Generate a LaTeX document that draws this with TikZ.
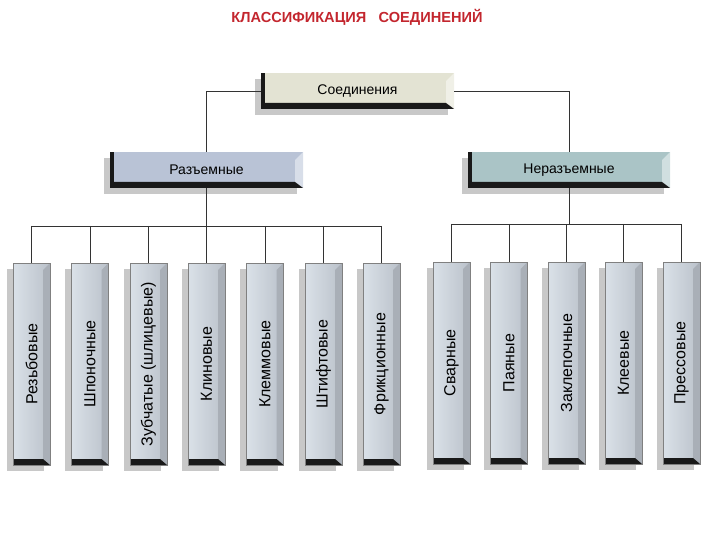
\documentclass[tikz,border=0pt]{standalone}
\usepackage{fontspec}
\setmainfont{Liberation Sans}
\usetikzlibrary{backgrounds}
\definecolor{titlered}{HTML}{C3262E}
\definecolor{rootface}{HTML}{E3E3D3}
\definecolor{razface}{HTML}{B9C3D6}
\definecolor{nerazface}{HTML}{AAC4C6}
\definecolor{leafL}{HTML}{DAE1E8}
\definecolor{leafR}{HTML}{BAC1CA}
\definecolor{leafbev}{HTML}{A9AFB7}
\definecolor{shadowgray}{HTML}{C8C8C8}
\begin{document}
\begin{tikzpicture}[
		x=1pt,y=-1pt,
		line width=0.7pt,
		font=\fontsize{14}{16}\selectfont
	]
	\tikzset{
		topbox/.style = {rectangle, minimum width=193pt, minimum height=36pt, inner sep=0pt, fill=#1,
			path picture={
				\fill[white!45!#1] ([xshift=-8pt,yshift=-8pt]path picture bounding box.north east) -- (path picture bounding box.north east) -- (path picture bounding box.south east) -- ([xshift=-8pt]path picture bounding box.south east) -- cycle;
				\fill[black!90] (path picture bounding box.south west) -- (path picture bounding box.north west) -- ([xshift=4pt]path picture bounding box.north west) -- ([xshift=4pt]path picture bounding box.south west) -- cycle;
				\fill[black!90] (path picture bounding box.south west) -- ([yshift=6pt]path picture bounding box.south west) -- ([xshift=-8pt,yshift=6pt]path picture bounding box.south east) -- (path picture bounding box.south east) -- cycle;
			}},
		leafbox/.style = {rectangle, minimum width=37pt, minimum height=202pt, inner sep=0pt,
			left color=leafL, right color=leafR, draw=gray, line width=0.4pt,
			font=\fontsize{16}{18}\selectfont,
			path picture={
				\fill[leafbev] ([xshift=-7pt,yshift=-7pt]path picture bounding box.north east) -- (path picture bounding box.north east) -- (path picture bounding box.south east) -- ([xshift=-7pt]path picture bounding box.south east) -- cycle;
				\fill[black!90] (path picture bounding box.south west) -- ([yshift=6pt]path picture bounding box.south west) -- ([xshift=-7pt,yshift=6pt]path picture bounding box.south east) -- (path picture bounding box.south east) -- cycle;
			}},
		link/.style = {draw=black!80},
		shadowbox/.style = {fill=shadowgray},
	}
	\useasboundingbox (0,0) rectangle (720,540);
	\node[text=titlered, font=\fontsize{14.6}{16}\selectfont\bfseries] at (357,17) (title) {КЛАССИФИКАЦИЯ\ \ \ СОЕДИНЕНИЙ};
	%
	\node[topbox=rootface] at (357.5,91) (root) {Соединения};
	\node[topbox=razface] at (206.5,170) (raz) {Разъемные};
	\node[topbox=nerazface, minimum width=202pt] at (569,170) (neraz) {Неразъемные};
	%
	\node[leafbox] at (31.5,364) (rez) {\rotatebox{90}{Резьбовые}};
	\node[leafbox] at (90,364) (shp) {\rotatebox{90}{Шпоночные}};
	\node[leafbox] at (148.5,364) (zub) {\rotatebox{90}{Зубчатые (шлицевые)}};
	\node[leafbox] at (206.5,364) (kli) {\rotatebox{90}{Клиновые}};
	\node[leafbox] at (265,364) (klm) {\rotatebox{90}{Клеммовые}};
	\node[leafbox] at (323.5,364) (sht) {\rotatebox{90}{Штифтовые}};
	\node[leafbox] at (381.5,364) (fri) {\rotatebox{90}{Фрикционные}};
	%
	\node[leafbox] at (451.5,363) (sva) {\rotatebox{90}{Сварные}};
	\node[leafbox] at (509,363) (pay) {\rotatebox{90}{Паяные}};
	\node[leafbox] at (566.5,363) (zak) {\rotatebox{90}{Заклепочные}};
	\node[leafbox] at (623.5,363) (kle) {\rotatebox{90}{Клеевые}};
	\node[leafbox] at (681.5,363) (pre) {\rotatebox{90}{Прессовые}};
	%
	\begin{scope}[on background layer]
		\foreach \n in {root,raz,neraz,rez,shp,zub,kli,klm,sht,fri,sva,pay,zak,kle,pre}
			\fill[shadowbox] ([xshift=-6pt,yshift=-6pt]\n.south west) rectangle ([xshift=-6pt,yshift=-6pt]\n.north east);
	\end{scope}
	%
	\coordinate (busL) at (0,226);
	\coordinate (busR) at (0,224);
	\draw[link] (root.west) -| (raz.north);
	\draw[link] (root.east) -| (neraz.north);
	%
	\draw[link] (raz.south) -- (raz.south |- busL);
	\draw[link] (rez.north |- busL) -- (fri.north |- busL);
	\foreach \n in {rez,shp,zub,kli,klm,sht,fri}
		\draw[link] (\n.north |- busL) -- (\n.north);
	%
	\draw[link] (neraz.south) -- (neraz.south |- busR);
	\draw[link] (sva.north |- busR) -- (pre.north |- busR);
	\foreach \n in {sva,pay,zak,kle,pre}
		\draw[link] (\n.north |- busR) -- (\n.north);
\end{tikzpicture}
\end{document}
